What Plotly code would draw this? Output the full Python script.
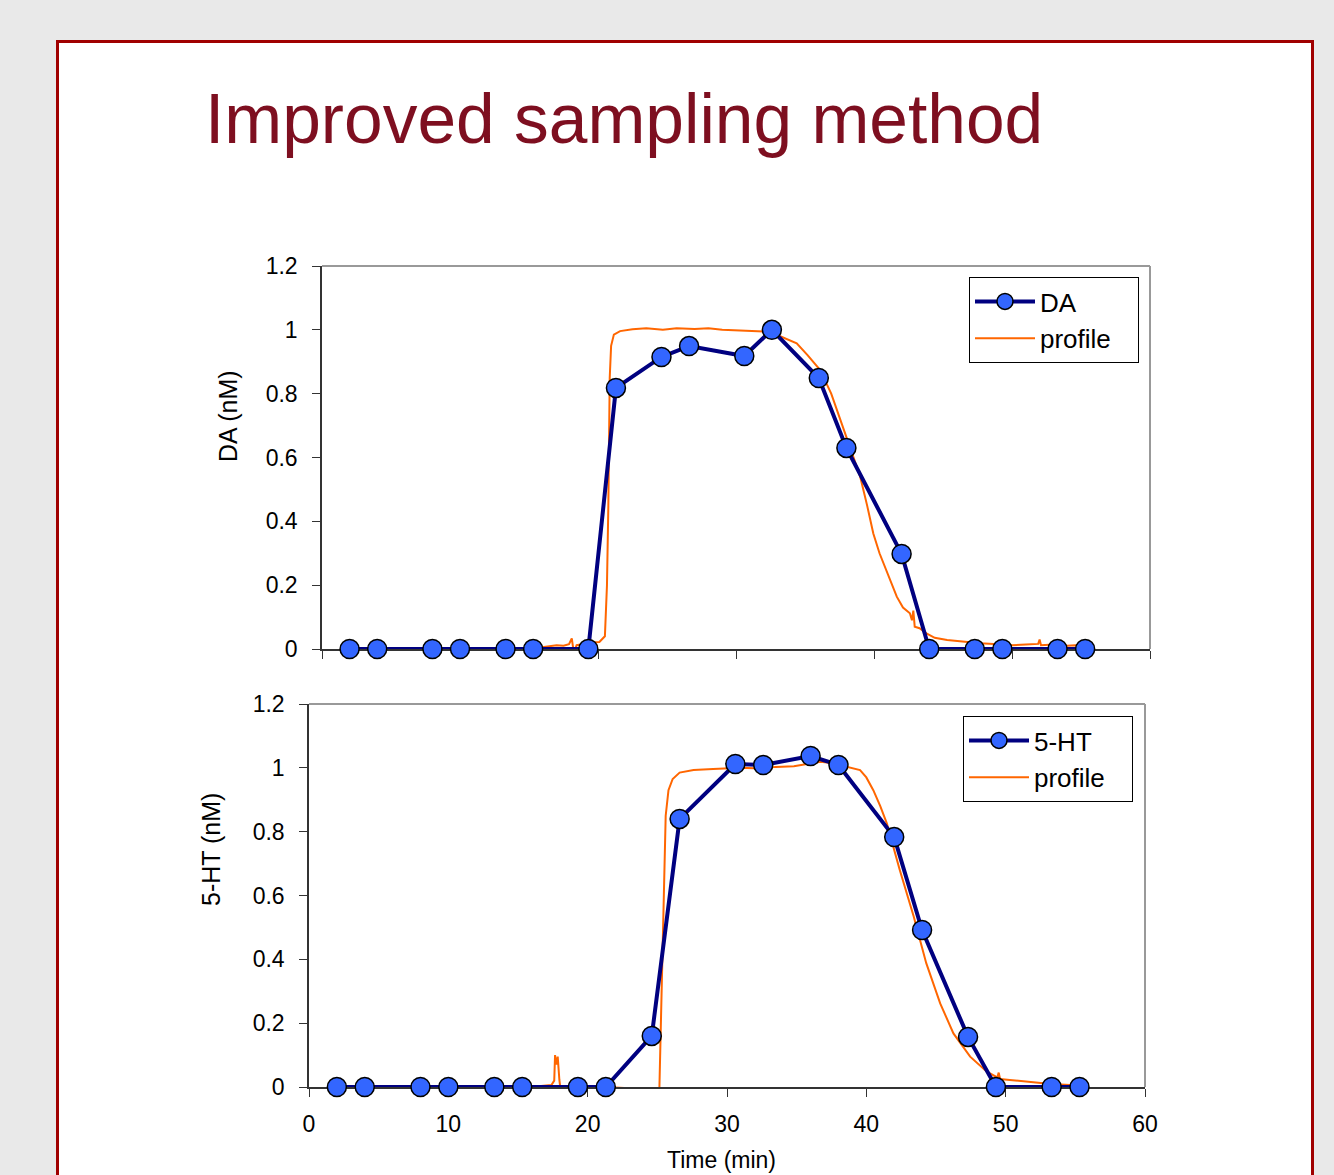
import plotly.graph_objects as go

W, H = 1334, 1175

# ---------------- data ----------------
sample_time = [2.0, 4.0, 8.0, 10.0, 13.3, 15.3, 19.3, 21.3, 24.6, 26.6,
               30.6, 32.6, 36.0, 38.0, 42.0, 44.0, 47.3, 49.3, 53.3, 55.3]
da_values = [0, 0, 0, 0, 0, 0, 0, 0.818, 0.915, 0.949,
             0.918, 1.0, 0.849, 0.63, 0.298, 0, 0, 0, 0, 0]
ht_values = [0, 0, 0, 0, 0, 0, 0, 0, 0.16, 0.84,
             1.012, 1.009, 1.037, 1.009, 0.783, 0.492, 0.157, 0, 0, 0]

da_profile_t = [15.0, 15.8, 16.5, 17.0, 17.5, 17.9, 18.1, 18.25, 18.45, 18.9,
                19.5, 20.1, 20.5, 20.65, 20.75, 20.85, 20.95, 21.15, 21.6, 22.5,
                23.5, 24.7, 25.7, 27.0, 28.0, 29.0, 30.0, 31.0, 32.0, 33.2,
                33.5, 34.4, 35.2, 36.1, 36.9, 37.8, 38.4, 39.0, 39.5, 39.95,
                40.4, 40.9, 41.3, 41.65, 42.1, 42.6, 42.75, 42.85, 42.95, 43.3,
                43.8, 44.4, 45.3, 46.5, 47.7, 49.0, 50.0, 51.0, 51.9, 52.0,
                52.1, 53.0, 54.0, 54.6, 55.6]
da_profile_v = [0.0, 0.005, 0.008, 0.012, 0.010, 0.015, 0.033, -0.012, 0.012, 0.016,
                0.020, 0.022, 0.04, 0.2, 0.45, 0.85, 0.95, 0.985, 0.996, 1.002,
                1.005, 1.0, 1.005, 1.003, 1.005, 1.0, 0.998, 0.997, 0.995, 0.98,
                0.975, 0.958, 0.92, 0.874, 0.80, 0.686, 0.61, 0.54, 0.45, 0.362,
                0.30, 0.247, 0.20, 0.164, 0.13, 0.112, 0.09, 0.12, 0.07, 0.065,
                0.049, 0.035, 0.028, 0.022, 0.018, 0.015, 0.012, 0.014, 0.016, 0.03,
                0.012, 0.014, 0.010, 0.012, 0.007]

ht_profile_t = [16.1, 17.0, 17.4, 17.6, 17.66, 17.75, 17.85, 17.97, 18.1, 18.2,
                18.35, 18.5, 18.8, 19.2, 20.0, 21.0, 22.0, 23.0, 24.0, 24.96,
                25.15, 25.3, 25.44, 25.6, 25.8, 26.1, 26.6, 27.6, 29.0, 30.0,
                31.0, 32.4, 33.5, 34.8, 35.8, 36.7, 37.5, 38.6, 39.55, 40.0,
                40.5, 41.0, 41.47, 42.4, 43.4, 44.3, 45.3, 46.25, 47.45, 48.65,
                49.4, 49.5, 49.6, 50.3, 51.5, 52.7, 53.6, 54.6, 55.3]
ht_profile_v = [0.001, 0.004, 0.006, 0.02, 0.10, 0.07, 0.095, 0.022, -0.04, -0.062,
                -0.03, -0.015, -0.005, 0.0, 0.003, 0.0, -0.003, -0.004, -0.005, -0.008,
                0.0, 0.3, 0.6, 0.85, 0.93, 0.965, 0.985, 0.993, 0.996, 0.998,
                1.0, 0.998, 1.003, 1.005, 1.012, 1.019, 1.015, 1.003, 0.993, 0.97,
                0.93, 0.88, 0.826, 0.68, 0.534, 0.388, 0.262, 0.168, 0.095, 0.048,
                0.03, 0.045, 0.025, 0.022, 0.016, 0.012, 0.009, 0.006, 0.005]

x_ticks = [0, 10, 20, 30, 40, 50, 60]
title_text = "Improved sampling method"

# ---------------- styling helpers ----------------
def px_x(p):
    return p / W

def px_y(p):
    return 1 - p / H

NAVY = "#000080"
BLUE = "#3366FF"
ORANGE = "#FF6600"
FONT = "Liberation Sans, Arial, sans-serif"
PAD = "\u00a0\u00a0\u00a0"  # right padding inside the legend box

fig = go.Figure()

fig.add_trace(go.Scatter(x=da_profile_t, y=da_profile_v, mode="lines", name="profile" + PAD,
                         line=dict(color=ORANGE, width=2), xaxis="x", yaxis="y",
                         legend="legend", legendrank=2, cliponaxis=False))
fig.add_trace(go.Scatter(x=sample_time, y=da_values, mode="lines+markers", name="DA",
                         line=dict(color=NAVY, width=4),
                         marker=dict(size=19, color=BLUE, line=dict(color="black", width=1.5)),
                         xaxis="x", yaxis="y", legend="legend", legendrank=1, cliponaxis=False))
fig.add_trace(go.Scatter(x=ht_profile_t, y=ht_profile_v, mode="lines", name="profile" + PAD,
                         line=dict(color=ORANGE, width=2), xaxis="x2", yaxis="y2",
                         legend="legend2", legendrank=2, cliponaxis=False))
fig.add_trace(go.Scatter(x=sample_time, y=ht_values, mode="lines+markers", name="5-HT",
                         line=dict(color=NAVY, width=4),
                         marker=dict(size=19, color=BLUE, line=dict(color="black", width=1.5)),
                         xaxis="x2", yaxis="y2", legend="legend2", legendrank=1, cliponaxis=False))

axis_common = dict(showgrid=False, zeroline=False, ticks="outside", ticklen=8,
                   tickcolor="#333333", linecolor="#333333", linewidth=1.5,
                   showline=True, layer="below traces", automargin=False,
                   tickfont=dict(family=FONT, size=23, color="black"))

top_dom_x = [px_x(322), px_x(1150)]
top_dom_y = [px_y(649), px_y(266)]
bot_dom_x = [px_x(309), px_x(1145)]
bot_dom_y = [px_y(1087), px_y(704)]

legend_common = dict(bgcolor="white", bordercolor="black", borderwidth=1,
                     font=dict(family=FONT, size=26, color="black"),
                     xanchor="left", yanchor="top", itemwidth=60,
                     traceorder="normal")

fig.update_layout(
    width=W, height=H, autosize=False,
    margin=dict(l=0, r=0, t=0, b=0, pad=0, autoexpand=False),
    paper_bgcolor="#E9E9E9",
    plot_bgcolor="white",
    showlegend=True,
    xaxis=dict(domain=top_dom_x, range=[0, 60], tickvals=x_ticks,
               showticklabels=False, anchor="y", **axis_common),
    yaxis=dict(domain=top_dom_y, range=[0, 1.2], dtick=0.2, anchor="x",
               ticklabelstandoff=10, **axis_common),
    xaxis2=dict(domain=bot_dom_x, range=[0, 60], tickvals=x_ticks,
                anchor="y2", ticklabelstandoff=8, **axis_common),
    yaxis2=dict(domain=bot_dom_y, range=[0, 1.2], dtick=0.2, anchor="x2",
                ticklabelstandoff=10, **axis_common),
    legend=dict(x=px_x(969), y=px_y(277), **legend_common),
    legend2=dict(x=px_x(963), y=px_y(716), **legend_common),
)

shapes = [
    dict(type="rect", xref="paper", yref="paper",
         x0=px_x(57.5), x1=px_x(1312.5), y0=-0.05, y1=px_y(41.5),
         fillcolor="white", line=dict(color="#A00000", width=3), layer="below"),
]
for xr, yr in [("x domain", "y domain"), ("x2 domain", "y2 domain")]:
    shapes.append(dict(type="line", xref=xr, yref=yr, x0=0, x1=1, y0=1, y1=1,
                       line=dict(color="#999999", width=2), layer="below"))
    shapes.append(dict(type="line", xref=xr, yref=yr, x0=1, x1=1, y0=0, y1=1,
                       line=dict(color="#999999", width=2), layer="below"))
fig.update_layout(shapes=shapes)

annotations = [
    dict(text=title_text, xref="paper", yref="paper", x=px_x(624), y=px_y(119),
         xanchor="center", yanchor="middle", showarrow=False,
         font=dict(family=FONT, size=69.5, color="#7E0F20")),
    dict(text="DA (nM)", xref="paper", yref="paper", x=px_x(228), y=px_y(416),
         xanchor="center", yanchor="middle", showarrow=False, textangle=-90,
         font=dict(family=FONT, size=25, color="black")),
    dict(text="5-HT (nM)", xref="paper", yref="paper", x=px_x(211), y=px_y(850),
         xanchor="center", yanchor="middle", showarrow=False, textangle=-90,
         font=dict(family=FONT, size=25, color="black")),
    dict(text="Time (min)", xref="paper", yref="paper", x=px_x(721), y=0.0,
         xanchor="center", yanchor="bottom", showarrow=False,
         font=dict(family=FONT, size=23, color="black")),
]
fig.update_layout(annotations=annotations)

fig.write_html("out.html", config={"displayModeBar": False},
               post_script="document.body.style.margin='0';")
